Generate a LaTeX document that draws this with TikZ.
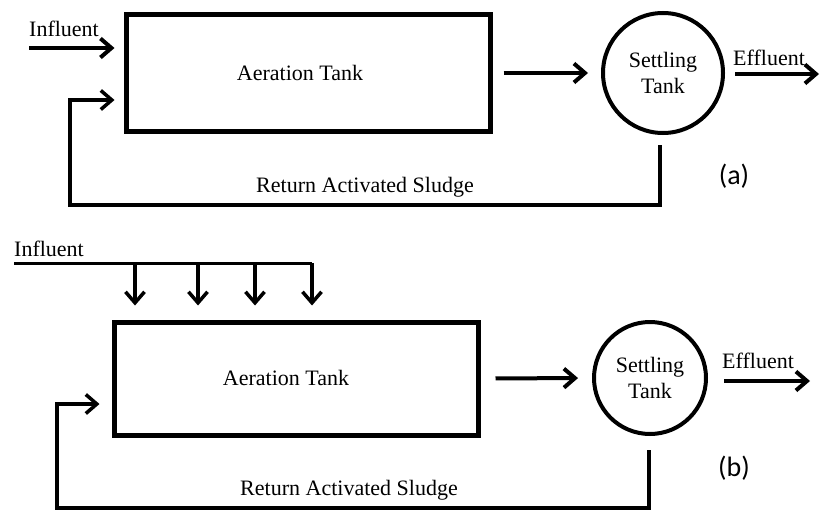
\documentclass[tikz,border=0pt]{standalone}
\usepackage{fontspec}
\setmainfont{Liberation Serif}
\newfontfamily\tagfont{Carlito}
\usetikzlibrary{arrows.meta}
\begin{document}
\begin{tikzpicture}[x=1pt,y=-1pt,
  tank/.style={draw,line width=5pt,rectangle,inner sep=0pt,minimum width=364pt},
  settler/.style={draw,line width=4pt,circle,inner sep=0pt,align=center,
    font=\fontsize{22}{26}\selectfont},
  lbl/.style={inner sep=0pt,font=\fontsize{22}{26}\selectfont},
  flow/.style={line width=4pt,-{Straight Barb[length=11pt,width=19pt]}},
  feed/.style={line width=3.5pt,-{Straight Barb[length=11pt,width=19pt]}},
  header/.style={line width=3pt},
  tag/.style={inner sep=0pt,font=\tagfont\fontsize{28}{32}\selectfont}]
\useasboundingbox[fill=white] (0,0) rectangle (822,511);

% ---------- (a) conventional activated sludge ----------
\node[tank,minimum height=116pt] (tankA) at (308,73) {};
\node[lbl,anchor=base] (aerA) at (300,81) {Aeration Tank};
\node[settler,minimum size=120pt] (setA) at (663,73) {Settling\\Tank};

\coordinate (inA) at (29,48);
\draw[flow,shorten >=9pt] (inA) -- (inA -| tankA.west);
\node[lbl,anchor=base west] (inAl) at (29,37) {Influent};

\draw[flow,shorten <=11pt,shorten >=13pt] (tankA.east) -- (setA.west);

\coordinate (effA) at (819,74);
\draw[flow,shorten <=10pt] (setA.east |- effA) -- (effA);
\node[lbl,anchor=base west] (effAl) at (733,66) {Effluent};

\coordinate (rA2) at (70,205);
\coordinate (rA3) at (70,100);
\draw[feed,shorten >=9pt] ([xshift=-3pt,yshift=-10pt]setA.south) |- (rA2) |- (tankA.west |- rA3);
\node[lbl,anchor=base] (rasA) at (365,192) {Return Activated Sludge};

\node[tag] (tagA) at (734,176) {(a)};

% ---------- (b) step feed ----------
\node[tank,minimum height=113pt] (tankB) at (296,378.5) {};
\node[lbl,anchor=base] (aerB) at (286,385) {Aeration Tank};
\node[settler,minimum size=112pt] (setB) at (650,378) {Settling\\Tank};

\coordinate (inB) at (14,263);
\coordinate (d1) at (135,263);
\coordinate (d2) at (198,263);
\coordinate (d3) at (255,263);
\coordinate (d4) at (312,263);
\node[lbl,anchor=base west] (inBl) at (14,256) {Influent};
\draw[header] (inB) -- (d4);
\foreach \d in {d1,d2,d3,d4}
  \draw[feed,shorten >=14pt] (\d) -- (\d |- tankB.north);

\draw[flow,shorten <=15pt,shorten >=14pt] (tankB.east) -- (setB.west);

\coordinate (effB) at (810,381);
\draw[flow,shorten <=16pt] (setB.east |- effB) -- (effB);
\node[lbl,anchor=base west] (effBl) at (722,368) {Effluent};

\coordinate (rB2) at (57,508);
\coordinate (rB3) at (57,404);
\draw[feed,shorten >=12pt] ([xshift=-1pt,yshift=-14pt]setB.south) |- (rB2) |- (tankB.west |- rB3);
\node[lbl,anchor=base] (rasB) at (349,495) {Return Activated Sludge};

\node[tag] (tagB) at (734,468) {(b)};
\end{tikzpicture}
\end{document}
